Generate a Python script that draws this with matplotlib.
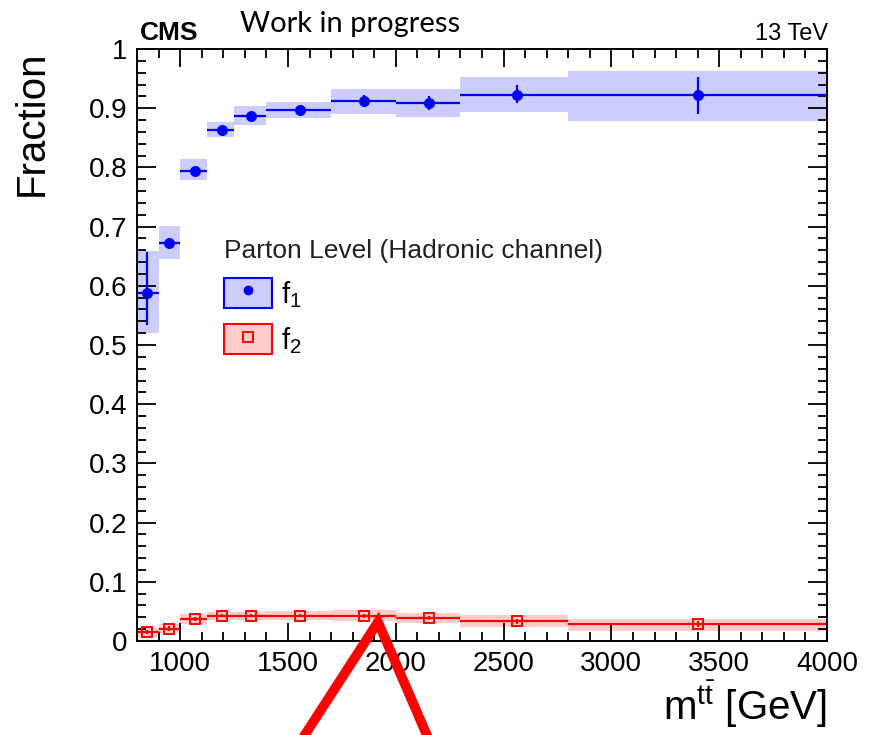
import numpy as np
import matplotlib
matplotlib.use('Agg')
import matplotlib.pyplot as plt
from matplotlib.patches import Patch
from matplotlib.lines import Line2D

plt.rcParams['font.family'] = ['Liberation Sans', 'DejaVu Sans']
plt.rcParams['mathtext.fontset'] = 'custom'
plt.rcParams['mathtext.rm'] = 'Liberation Sans'
plt.rcParams['mathtext.it'] = 'Liberation Sans:italic'

# bins in m(tt) [GeV] and marker positions
bin_edges = [800, 900, 1000, 1125, 1250, 1400, 1700, 2000, 2300, 2800, 4000]
bin_x = [848, 948, 1070, 1195, 1330, 1558, 1852, 2155, 2560, 3404]

# f1 (blue)
f1 = [0.588, 0.673, 0.794, 0.864, 0.886, 0.897, 0.912, 0.908, 0.923, 0.922]
f1_err_up = [0.069, 0.008, 0.006, 0.005, 0.006, 0.006, 0.010, 0.013, 0.016, 0.031]
f1_err_dn = [0.054, 0.008, 0.006, 0.005, 0.006, 0.006, 0.010, 0.011, 0.015, 0.031]
f1_band_lo = [0.521, 0.645, 0.778, 0.851, 0.871, 0.884, 0.890, 0.885, 0.893, 0.878]
f1_band_hi = [0.658, 0.701, 0.814, 0.877, 0.903, 0.911, 0.932, 0.932, 0.953, 0.963]

# f2 (red)
f2 = [0.015, 0.021, 0.037, 0.043, 0.043, 0.043, 0.042, 0.039, 0.033, 0.028]
f2_err = [0.004, 0.004, 0.003, 0.003, 0.003, 0.003, 0.003, 0.003, 0.004, 0.005]
f2_band_lo = [0.007, 0.0135, 0.029, 0.035, 0.035, 0.035, 0.033, 0.030, 0.024, 0.017]
f2_band_hi = [0.022, 0.029, 0.0456, 0.0495, 0.0495, 0.051, 0.052, 0.047, 0.044, 0.038]

x_ticks = [1000, 1500, 2000, 2500, 3000, 3500, 4000]
y_ticks = [0, 0.1, 0.2, 0.3, 0.4, 0.5, 0.6, 0.7, 0.8, 0.9, 1.0]

blue = '#0000ff'
blue_band = '#ccccff'
red = '#ff0000'
red_band = '#ffcccc'

fig = plt.figure(figsize=(8.84, 7.35), dpi=100)
ax = fig.add_axes([137/884, 1 - 641/735, 690/884, 592/735])

lo = np.array(bin_edges[:-1])
hi = np.array(bin_edges[1:])

def draw_series(vals, e_up, e_dn, b_lo, b_hi, col, band_col, marker, mfc, ms):
    vals = np.array(vals)
    ax.bar(lo, np.array(b_hi) - np.array(b_lo), width=hi - lo, bottom=b_lo,
           align='edge', color=band_col, linewidth=0, zorder=1)
    ax.hlines(vals, lo, hi, colors=col, linewidth=1.6, zorder=2)
    ax.vlines(bin_x, vals - np.array(e_dn), vals + np.array(e_up),
              colors=col, linewidth=1.6, zorder=2)
    ax.plot(bin_x, vals, ls='none', marker=marker, color=col, mfc=mfc,
            mec=col, ms=ms, mew=1.4, zorder=3)

draw_series(f1, f1_err_up, f1_err_dn, f1_band_lo, f1_band_hi,
            blue, blue_band, 'o', blue, 6.5)
draw_series(f2, f2_err, f2_err, f2_band_lo, f2_band_hi,
            red, red_band, 's', 'none', 7.5)

ax.set_xlim(800, 4000)
ax.set_ylim(0, 1)
ax.set_xticks(x_ticks)
ax.set_xticks(np.arange(800, 4001, 100), minor=True)
ax.set_yticks(y_ticks)
ax.set_yticks(np.arange(0, 1.001, 0.02), minor=True)
ax.set_yticklabels(['%g' % v for v in y_ticks])
ax.tick_params(which='both', direction='in', top=True, right=True,
               labelsize=20, width=1.3)
ax.tick_params(axis='x', which='major', length=13, pad=7)
ax.tick_params(axis='y', which='major', length=14, pad=7)
ax.tick_params(which='minor', length=6.5)
for s in ax.spines.values():
    s.set_linewidth(1.4)

ax.text(-0.152, 0.998, 'Fraction', rotation=90, ha='center', va='top',
        fontsize=29, transform=ax.transAxes)
ax.text(1.0, -0.133, r'm$^{\mathrm{t\bar{t}}}$ [GeV]', ha='right', va='baseline',
        fontsize=29, transform=ax.transAxes)

# header texts
fig.text(140/884, 1 - 40/735, 'CMS', fontsize=19, fontweight='bold',
         ha='left', va='baseline')
fig.text(240/884, 1 - 32/735, 'Work in progress', fontsize=21,
         family=['Lato', 'DejaVu Sans'], ha='left', va='baseline')
fig.text(828/884, 1 - 40/735, '13 TeV', fontsize=17, ha='right', va='baseline')

# legend
ax.text(0.126, 0.647, 'Parton Level (Hadronic channel)', fontsize=19,
        color='#222222', ha='left', va='baseline', transform=ax.transAxes)
h1 = (Patch(facecolor=blue_band, edgecolor=blue, linewidth=1.5),
      Line2D([], [], ls='none', marker='o', color=blue, ms=6))
h2 = (Patch(facecolor=red_band, edgecolor=red, linewidth=1.5),
      Line2D([], [], ls='none', marker='s', color=red, mfc='none', ms=7, mew=1.4))
ax.legend([h1, h2], ['f$_1$', 'f$_2$'], loc='upper left',
          bbox_to_anchor=(0.126, 0.613), frameon=False, fontsize=21,
          borderpad=0, borderaxespad=0, handlelength=1.65, handleheight=1.2,
          labelspacing=0.5, handletextpad=0.3)

# red arrow annotation pointing at the plot
tip = (378/884, 1 - 622/735)
fig.add_artist(Line2D([300/884, tip[0], 430/884], [-0.01, tip[1], -0.01],
                      transform=fig.transFigure, color=red, linewidth=7,
                      solid_joinstyle='miter', zorder=10))

fig.savefig('out.png', dpi=100)
